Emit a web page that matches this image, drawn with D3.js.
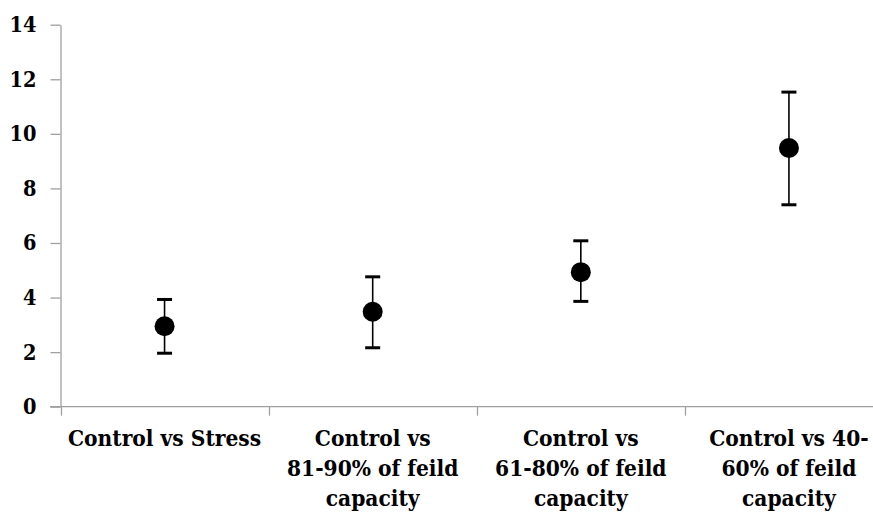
<!DOCTYPE html>
<html><head><meta charset="utf-8">
<script src="https://cdn.jsdelivr.net/npm/d3@7"></script>
<style>body{margin:0;background:#fff}svg{display:block}</style>
</head><body>
<script>
const categories = [
  ["Control vs Stress"],
  ["Control vs", "81-90% of feild", "capacity"],
  ["Control vs", "61-80% of feild", "capacity"],
  ["Control vs 40-", "60% of feild", "capacity"]
];
const means = [2.95, 3.48, 4.93, 9.48];
const upper = [3.93, 4.76, 6.08, 11.53];
const lower = [1.96, 2.16, 3.86, 7.40];
const yTicks = [0, 2, 4, 6, 8, 10, 12, 14];

const W = 873, H = 512;
const FONT = "'DejaVu Serif Condensed', 'DejaVu Serif', serif";
const svg = d3.select("body").append("svg").attr("width", W).attr("height", H);

const x = d3.scaleBand().domain(d3.range(categories.length)).range([60.5, 893]);
const y = d3.scaleLinear().domain([0, 14]).range([406.7, 24.7]);

// y axis
const ya = svg.append("g").attr("transform", "translate(60.5,0)")
  .call(d3.axisLeft(y).tickValues(yTicks).tickSize(10).tickPadding(14).tickSizeOuter(0));
ya.attr("font-family", FONT).attr("font-size", 21.5).attr("font-weight", "bold");
ya.select(".domain").attr("stroke", "#a0a0a0").attr("stroke-width", 1.3);
ya.selectAll(".tick line").attr("stroke", "#a0a0a0").attr("stroke-width", 1.3);
ya.selectAll(".tick text").attr("fill", "#000");

// x axis
const xa = svg.append("g").attr("transform", "translate(0,406.7)");
xa.append("line").attr("x1", 50).attr("x2", 893).attr("y1", 0).attr("y2", 0)
  .attr("stroke", "#a0a0a0").attr("stroke-width", 1.3);
xa.selectAll("line.t").data(d3.range(categories.length + 1)).enter().append("line")
  .attr("x1", i => Math.round(x.range()[0] + i * x.step()) + 0.5)
  .attr("x2", i => Math.round(x.range()[0] + i * x.step()) + 0.5)
  .attr("y1", 0).attr("y2", 9).attr("stroke", "#a0a0a0").attr("stroke-width", 1.3);

// category labels
categories.forEach((lines, i) => {
  const t = svg.append("text").attr("font-family", FONT).attr("font-weight", "bold")
    .attr("font-size", 22.5).attr("fill", "#000").attr("text-anchor", "middle");
  lines.forEach((ln, j) => {
    t.append("tspan").attr("x", x(i) + x.bandwidth() / 2).attr("y", 446 + j * 30).text(ln);
  });
});

// error bars
const g = svg.append("g");
means.forEach((m, i) => {
  const cx = x(i) + x.bandwidth() / 2;
  g.append("line").attr("x1", cx).attr("x2", cx).attr("y1", y(upper[i])).attr("y2", y(lower[i]))
    .attr("stroke", "#000").attr("stroke-width", 1.6);
  [upper[i], lower[i]].forEach(v => {
    g.append("line").attr("x1", cx - 7.5).attr("x2", cx + 7.5).attr("y1", y(v)).attr("y2", y(v))
      .attr("stroke", "#000").attr("stroke-width", 3);
  });
  g.append("circle").attr("cx", cx).attr("cy", y(m)).attr("r", 10).attr("fill", "#000");
});
</script>
</body></html>
